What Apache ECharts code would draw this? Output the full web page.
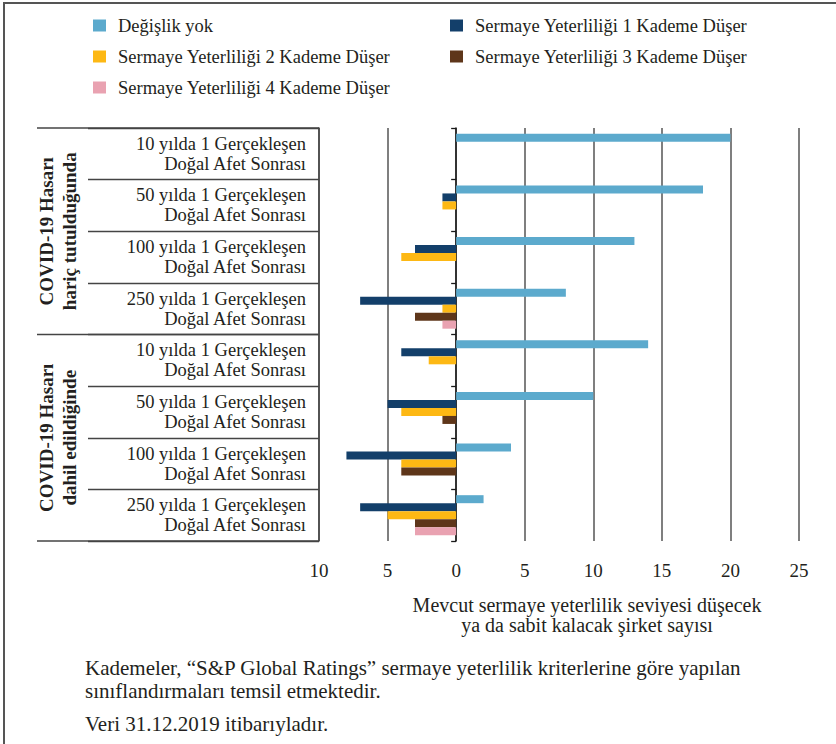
<!DOCTYPE html>
<html>
<head>
<meta charset="utf-8">
<title>Doğal afet senaryoları – sermaye yeterliliği</title>
<script src="https://cdn.jsdelivr.net/npm/echarts@6/dist/echarts.min.js"></script>
<style>
  html, body { margin: 0; padding: 0; background: #ffffff; }
  #chart { width: 836px; height: 744px; }
</style>
</head>
<body>
<div id="chart"></div>
<script>
// Scenario labels (one block of four per COVID-19 treatment)
const scenarios = [
  '10 yılda 1 Gerçekleşen\nDoğal Afet Sonrası',
  '50 yılda 1 Gerçekleşen\nDoğal Afet Sonrası',
  '100 yılda 1 Gerçekleşen\nDoğal Afet Sonrası',
  '250 yılda 1 Gerçekleşen\nDoğal Afet Sonrası'
];
const groups = ['COVID-19 Hasarı\nhariç tutulduğunda', 'COVID-19 Hasarı\ndahil edildiğinde'];
const categories = scenarios.concat(scenarios);

const seriesNames = [
  'Değişlik yok',
  'Sermaye Yeterliliği 1 Kademe Düşer',
  'Sermaye Yeterliliği 2 Kademe Düşer',
  'Sermaye Yeterliliği 3 Kademe Düşer',
  'Sermaye Yeterliliği 4 Kademe Düşer'
];

// Number of companies per category (unchanged ones drawn to the right,
// downgraded ones drawn to the left of zero)
const noChange = [20, 18, 13, 8, 14, 10, 4, 2];
const down1    = [0, 1, 3, 7, 4, 5, 8, 7];
const down2    = [0, 1, 4, 1, 2, 4, 4, 5];
const down3    = [0, 0, 0, 3, 0, 1, 4, 3];
const down4    = [0, 0, 0, 1, 0, 0, 0, 3];

const xMin = -10, xMax = 25, xStep = 5;

const colors = ['#5caacd', '#133f6a', '#fdb814', '#5e361a', '#e9a2b1'];

const axisTitle = 'Mevcut sermaye yeterlilik seviyesi düşecek\nya da sabit kalacak şirket sayısı';
const footnotes = [
  'Kademeler, “S&P Global Ratings” sermaye yeterlilik kriterlerine göre yapılan\nsınıflandırmaları temsil etmektedir.',
  'Veri 31.12.2019 itibarıyladır.'
];

// Layout
const FONT = 'Liberation Serif, serif';
const TEXT = '#231f20';
const GRID = { left: 319, right: 37, top: 128, bottom: 203 };
const H = 744;
const gridBottomY = H - GRID.bottom;
const groupMidY = (GRID.top + gridBottomY) / 2;

const valueSets = [noChange, down1, down2, down3, down4];
const series = valueSets.map((vals, i) => ({
  name: seriesNames[i],
  type: 'bar',
  yAxisIndex: 0,
  barWidth: 8,
  barGap: '0%',
  itemStyle: { color: colors[i] },
  data: vals.map(v => (i === 0 ? v : -v))
}));

const chart = echarts.init(document.getElementById('chart'), null, { renderer: 'svg' });

const legendText = { fontFamily: FONT, fontSize: 18.5, color: TEXT, padding: [0, 0, 0, 7] };

chart.setOption({
  animation: false,
  color: colors,
  textStyle: { fontFamily: FONT, color: TEXT },
  legend: [
    {
      data: [seriesNames[0], seriesNames[2], seriesNames[4]],
      orient: 'vertical', left: 88, top: 11,
      icon: 'rect', itemWidth: 13, itemHeight: 12, itemGap: 12,
      selectedMode: false, textStyle: legendText
    },
    {
      data: [seriesNames[1], seriesNames[3]],
      orient: 'vertical', left: 445, top: 11,
      icon: 'rect', itemWidth: 13, itemHeight: 12, itemGap: 12,
      selectedMode: false, textStyle: legendText
    }
  ],
  grid: { left: GRID.left, right: GRID.right, top: GRID.top, bottom: GRID.bottom, containLabel: false },
  xAxis: {
    type: 'value',
    min: xMin, max: xMax, interval: xStep,
    axisLine: { show: false },
    axisTick: { show: false },
    splitLine: { show: true, lineStyle: { color: '#555555', width: 1.5 } },
    axisLabel: {
      margin: 20, fontFamily: FONT, fontSize: 19, color: TEXT,
      formatter: v => String(Math.abs(v))
    },
    name: axisTitle,
    nameLocation: 'middle',
    nameGap: 54,
    nameTextStyle: { fontFamily: FONT, fontSize: 20, color: TEXT, lineHeight: 20, padding: [0, 0, 0, 56] }
  },
  yAxis: [
    {
      // table column with the scenario labels
      type: 'category', data: categories, inverse: true, position: 'left',
      axisLine: { show: true, onZero: false, lineStyle: { color: '#444444', width: 1.5 } },
      axisTick: { show: true, length: 231, lineStyle: { color: '#444444', width: 1.3 } },
      axisLabel: {
        margin: 13, fontFamily: FONT, fontSize: 18.5, color: TEXT,
        lineHeight: 20, align: 'right', padding: [6, 0, 0, 0]
      },
      splitLine: { show: false }
    },
    {
      // zero baseline with short boundary ticks
      type: 'category', data: categories, inverse: true, position: 'left',
      axisLine: { show: true, onZero: true, lineStyle: { color: '#1a1a1a', width: 1.5 } },
      axisTick: { show: true, length: 5, lineStyle: { color: '#1a1a1a', width: 1.3 } },
      axisLabel: { show: false },
      splitLine: { show: false }
    }
  ],
  series: series,
  graphic: [
    // outer frame
    { type: 'line', shape: { x1: 3, y1: 3, x2: 836, y2: 3 }, style: { stroke: '#555555', lineWidth: 2 } },
    { type: 'line', shape: { x1: 4, y1: 3, x2: 4, y2: H }, style: { stroke: '#555555', lineWidth: 2 } },
    // group separators of the label table
    ...[GRID.top, groupMidY, gridBottomY].map(y => ({
      type: 'line', shape: { x1: 37, y1: y, x2: GRID.left, y2: y },
      style: { stroke: '#444444', lineWidth: 1.3 }
    })),
    // rotated group titles
    ...groups.map((g, i) => ({
      type: 'text',
      x: 58, y: i === 0 ? (GRID.top + groupMidY) / 2 : (groupMidY + gridBottomY) / 2,
      rotation: Math.PI / 2,
      style: {
        text: g, align: 'center', verticalAlign: 'middle',
        font: 'bold 19px ' + FONT, lineHeight: 23, fill: TEXT
      }
    })),
    // notes below the chart
    {
      type: 'text', x: 85, y: 656,
      style: { text: footnotes[0], font: '21px ' + FONT, lineHeight: 23, fill: TEXT }
    },
    {
      type: 'text', x: 85, y: 712,
      style: { text: footnotes[1], font: '21px ' + FONT, lineHeight: 23, fill: TEXT }
    }
  ]
});
</script>
</body>
</html>
